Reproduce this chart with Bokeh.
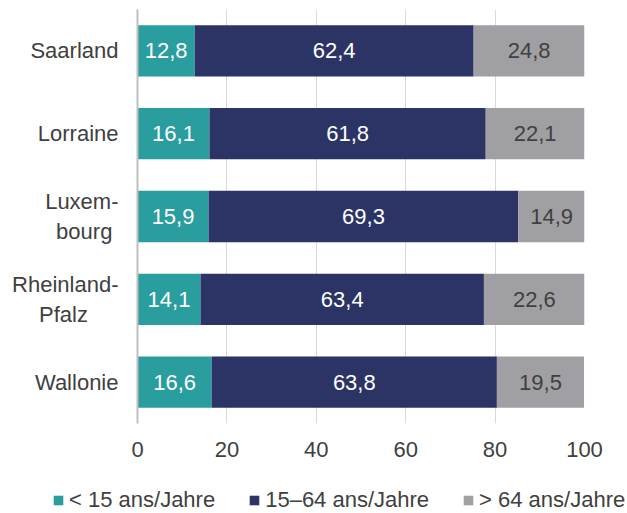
from bokeh.plotting import figure
from bokeh.models import (ColumnDataSource, Legend, LegendItem, FactorRange,
                          Range1d, FixedTicker)
from bokeh.embed import file_html
from bokeh.resources import INLINE
from bokeh.core.properties import value

NB = "\u00a0"
# ---- data ----
regions = ["Saarland", "Lorraine", "Luxem-\nbourg" + NB, "Rheinland-\nPfalz" + NB * 5, "Wallonie"]
under15 = [12.8, 16.1, 15.9, 14.1, 16.6]
age15_64 = [62.4, 61.8, 69.3, 63.4, 63.8]
over64 = [24.8, 22.1, 14.9, 22.6, 19.5]
series_names = ["< 15 ans/Jahre", "15–64 ans/Jahre", "> 64 ans/Jahre"]
x_ticks = [0, 20, 40, 60, 80, 100]

colors = ["#2a9d9f", "#2b3464", "#a0a0a4"]
label_colors = ["#ffffff", "#ffffff", "#404040"]
FONT = "Liberation Sans"
FS = "22px"

p = figure(y_range=FactorRange(*reversed(regions)), x_range=Range1d(0, 100),
           width=627, height=470, output_backend="svg", toolbar_location=None,
           min_border_left=137, min_border_right=43, min_border_top=9,
           min_border_bottom=47)
p.outline_line_color = None
p.background_fill_color = "white"

src = ColumnDataSource(dict(region=regions, u=under15, w=age15_64, o=over64))
rs = p.hbar_stack(["u", "w", "o"], y="region", height=0.62, color=colors,
                  line_width=0, source=src)

# value labels
lx, ly, lt, lc = [], [], [], []
for i, reg in enumerate(regions):
    start = 0.0
    for vals, col in zip([under15, age15_64, over64], label_colors):
        v = vals[i]
        lx.append(start + v / 2)
        ly.append(reg)
        lt.append(f"{v:.1f}".replace(".", ","))
        lc.append(col)
        start += v
lsrc = ColumnDataSource(dict(x=lx, y=ly, t=lt, c=lc))
p.text(x="x", y="y", text="t", text_color="c", source=lsrc,
       text_align="center", text_baseline="middle",
       text_font=value(FONT), text_font_size=FS)

# axes
p.xaxis.ticker = FixedTicker(ticks=x_ticks)
p.xaxis.axis_line_color = None
p.xaxis.major_tick_line_color = None
p.xaxis.minor_tick_line_color = None
p.xaxis.major_label_text_font = FONT
p.xaxis.major_label_text_font_size = FS
p.xaxis.major_label_text_color = "#404040"
p.xaxis.major_label_standoff = 12

p.yaxis.axis_line_color = "#bfbfbf"
p.yaxis.axis_line_width = 2
p.yaxis.major_tick_line_color = None
p.yaxis.minor_tick_line_color = None
p.yaxis.major_label_text_font = FONT
p.yaxis.major_label_text_font_size = FS
p.yaxis.major_label_text_color = "#404040"
p.yaxis.major_label_standoff = 13

p.xgrid.grid_line_color = "#d9d9d9"
p.xgrid.grid_line_width = 1
p.ygrid.grid_line_color = None

# legend strip: a second small figure whose (hidden) bars carry the legend
lg = figure(width=627, height=43, output_backend="svg", toolbar_location=None,
            y_range=FactorRange(*regions), x_range=Range1d(0, 100),
            x_axis_location=None, y_axis_location=None,
            min_border=0, min_border_left=0, min_border_right=0,
            min_border_top=0, min_border_bottom=0)
lg.grid.visible = False
lg.outline_line_color = None
lsrc2 = ColumnDataSource(dict(region=regions, u=under15, w=age15_64, o=over64))
hidden = lg.hbar_stack(["u", "w", "o"], y="region", height=0.62, color=colors,
                       line_width=0, source=lsrc2)
for r in hidden:
    r.visible = False
legend = Legend(items=[LegendItem(label=n, renderers=[r]) for n, r in zip(series_names, hidden)],
                orientation="horizontal", location=(52, 0),
                padding=0, margin=0, spacing=33, label_standoff=5,
                glyph_width=12, glyph_height=12,
                label_text_font=FONT, label_text_font_size=FS,
                label_text_color="#404040", border_line_color=None,
                background_fill_alpha=0, inactive_fill_alpha=0)
lg.add_layout(legend)

open("out.html", "w").write(file_html([p, lg], INLINE))
